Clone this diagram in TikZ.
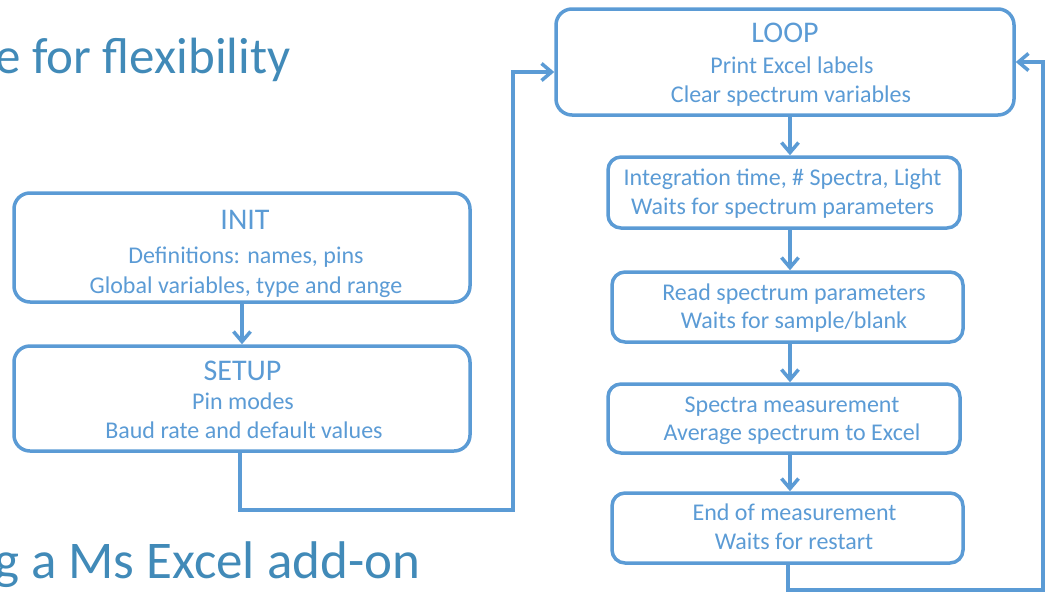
\documentclass[tikz,border=0pt]{standalone}
\usepackage{fontspec}
\setmainfont{Carlito}
\usetikzlibrary{arrows.meta}
\definecolor{boxblue}{HTML}{5B9BD5}
\definecolor{titleblue}{HTML}{418AB8}
\begin{document}
\begin{tikzpicture}[x=1pt,y=-1pt,
  flowbox/.style={draw=boxblue, line width=3.5pt, rounded corners=16pt, inner sep=0pt},
  smallbox/.style={flowbox, rounded corners=13pt},
  headtext/.style={text=boxblue, font=\fontsize{30}{30}\selectfont, anchor=base, inner sep=0pt},
  bodytext/.style={text=boxblue, font=\fontsize{24}{24}\selectfont, anchor=base, inner sep=0pt},
  slidetitle/.style={text=titleblue, anchor=base west, inner sep=0pt},
  flow/.style={draw=boxblue, line width=3.5pt, -{Straight Barb[length=10pt,width=17pt]}},
]
\useasboundingbox (0,0) rectangle (1048,592);
\clip (0,0) rectangle (1048,592);

% slide titles (cut at the left edge)
\node[slidetitle, font=\fontsize{51}{51}\selectfont] (t1) at (-5,73) {e for flexibility};
\node[slidetitle, font=\fontsize{53}{53}\selectfont] (t2) at (-6,578) {g a Ms Excel add-on};

% boxes
\node[flowbox, minimum width=456pt, minimum height=109pt] (init) at (242,247.5) {};
\node[flowbox, minimum width=456pt, minimum height=105pt] (setup) at (242,398.5) {};
\node[flowbox, minimum width=458pt, minimum height=106pt] (loop) at (785,62) {};
\node[smallbox, minimum width=352pt, minimum height=71pt] (b2) at (784,192.5) {};
\node[smallbox, minimum width=351pt, minimum height=70pt] (b3) at (787.5,307) {};
\node[smallbox, minimum width=352pt, minimum height=69pt] (b4) at (784,418.5) {};
\node[smallbox, minimum width=351pt, minimum height=70pt] (b5) at (787.5,528) {};

% texts
\node[headtext] (initA) at (245,229) {INIT};
\node[bodytext] (initB) at (246,263) {Definitions: names, pins};
\node[bodytext] (initC) at (246,293) {Global variables, type and range};

\node[headtext] (setupA) at (242.5,380) {SETUP};
\node[bodytext] (setupB) at (243,409) {Pin modes};
\node[bodytext] (setupC) at (244,438) {Baud rate and default values};

\node[headtext] (loopA) at (785,42) {LOOP};
\node[bodytext] (loopB) at (792,73) {Print Excel labels};
\node[bodytext] (loopC) at (791,102) {Clear spectrum variables};

\node[bodytext] (b2A) at (782.5,185) {Integration time, \# Spectra, Light};
\node[bodytext] (b2B) at (782.5,214) {Waits for spectrum parameters};

\node[bodytext] (b3A) at (794,300) {Read spectrum parameters};
\node[bodytext] (b3B) at (794,328) {Waits for sample/blank};

\node[bodytext] (b4A) at (792,412) {Spectra measurement};
\node[bodytext] (b4B) at (792,440) {Average spectrum to Excel};

\node[bodytext] (b5A) at (794.5,520) {End of measurement};
\node[bodytext] (b5B) at (794,549) {Waits for restart};

% connectors
\coordinate (ax) at (790,0);
\draw[flow] (init.south) -- (setup.north);
\coordinate (c1) at (240,510);
\coordinate (c2) at (513,510);
\coordinate (c3) at (513,72);
\draw[flow] (setup.south -| c1) -- (c1) -- (c2) -- (c3) -- (c3 -| loop.west);
\draw[flow] (loop.south -| ax) -- (b2.north -| ax);
\draw[flow] (b2.south -| ax) -- (b3.north -| ax);
\draw[flow] (b3.south -| ax) -- (b4.north -| ax);
\draw[flow] (b4.south -| ax) -- (b5.north -| ax);
\coordinate (r1) at (788,590);
\coordinate (r2) at (1043,590);
\coordinate (r3) at (1043,62);
\draw[flow] (b5.south -| r1) -- (r1) -- (r2) -- (r3) -- (r3 -| loop.east);
\end{tikzpicture}
\end{document}
